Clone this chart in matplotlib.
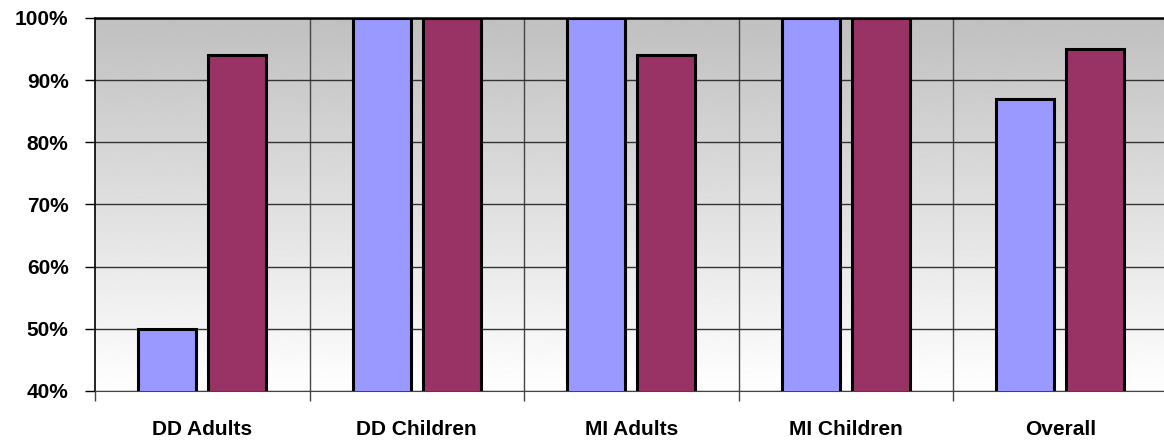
import numpy as np
import matplotlib.pyplot as plt
from matplotlib.ticker import FuncFormatter

# Percentages per group
groups = ['DD Adults', 'DD Children', 'MI Adults', 'MI Children', 'Overall']
series_a = [50, 100, 100, 100, 87]
series_b = [94, 100, 94, 100, 95]

plt.rcParams['font.family'] = ['Liberation Sans', 'DejaVu Sans']

fig = plt.figure(figsize=(11.64, 4.44), dpi=100)
ax = fig.add_axes([0.0816, 0.1194, 0.9215, 0.8401])

x = np.arange(len(groups))
width = 0.27
gap = 0.056

# Gray at the top fading to white at the bottom
grad = np.linspace(1.0, 0.75, 256).reshape(-1, 1)
ax.imshow(grad, cmap='gray', vmin=0, vmax=1, aspect='auto',
          extent=(-0.5, len(groups) - 0.5, 40, 100), origin='lower', zorder=0)

ax.bar(x - (width + gap) / 2, series_a, width, bottom=0, color='#9999FF',
       edgecolor='black', linewidth=2.2, zorder=3)
ax.bar(x + (width + gap) / 2, series_b, width, bottom=0, color='#993366',
       edgecolor='black', linewidth=2.2, zorder=3)

ax.set_xlim(-0.5, len(groups) - 0.5)
ax.set_ylim(40, 100)
ax.set_yticks(np.arange(40, 101, 10))
ax.yaxis.set_major_formatter(FuncFormatter(lambda v, p: f'{v:.0f}%'))

# Horizontal grid on y ticks, vertical separators between groups
ax.grid(axis='y', color='#333333', linewidth=1.0, zorder=1)
for b in np.arange(0.5, len(groups) - 0.5, 1):
    ax.axvline(b, color='#444444', linewidth=1.0, zorder=1)

ax.set_xticks(np.arange(-0.5, len(groups), 1), minor=False)
ax.set_xticklabels([])
ax.tick_params(axis='x', length=7, width=1, color='#444444')
ax.set_xticks(x, minor=True)
ax.set_xticklabels(groups, minor=True, fontsize=15, fontweight='bold')
ax.tick_params(axis='x', which='minor', length=0, pad=21)
ax.tick_params(axis='y', length=7, width=1, labelsize=15, pad=12)
for lbl in ax.get_yticklabels():
    lbl.set_fontweight('bold')

ax.spines['right'].set_visible(False)
ax.spines['top'].set_linewidth(1.8)
ax.spines['left'].set_linewidth(1.2)
ax.spines['bottom'].set_color('#444444')

fig.savefig('out.png', dpi=100)
